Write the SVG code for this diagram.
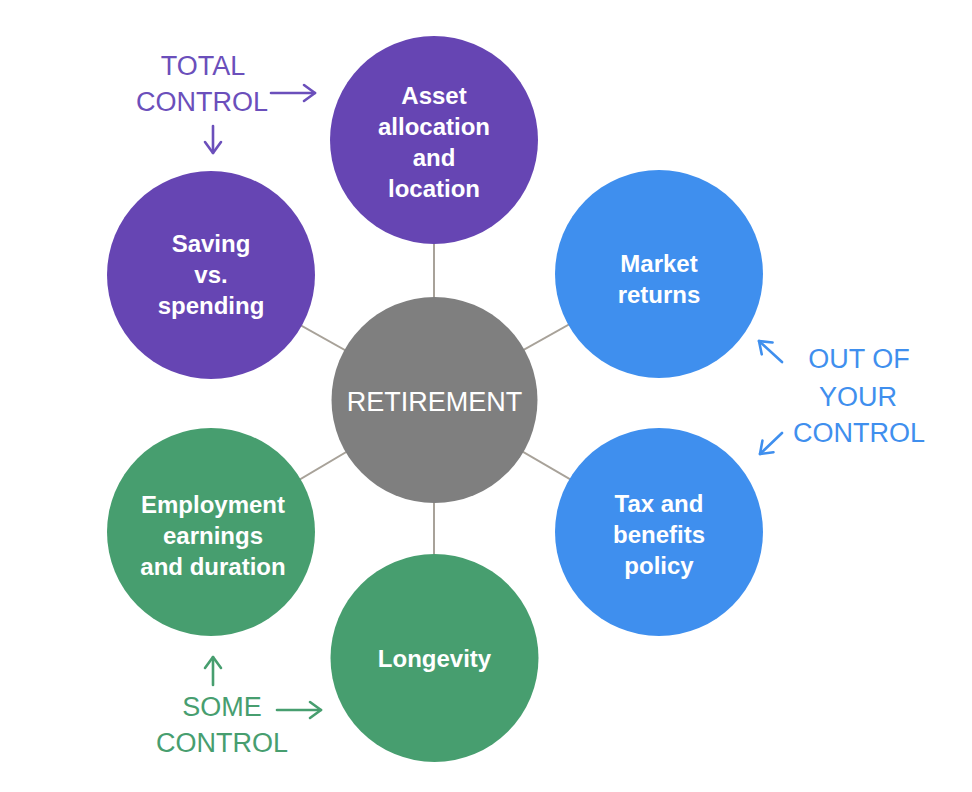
<svg xmlns="http://www.w3.org/2000/svg" width="972" height="792" viewBox="0 0 972 792">
  <style>
    .node text { font-family: "Liberation Sans", Arial, sans-serif; font-weight: bold; font-size: 24px; fill: #ffffff; text-anchor: middle; }
    .center text { font-family: "Liberation Sans", Arial, sans-serif; font-weight: normal; font-size: 27px; fill: #ffffff; text-anchor: middle; }
    .lbl { font-family: "Liberation Sans", Arial, sans-serif; font-size: 27px; text-anchor: middle; }
    .conn line { stroke: #a8a299; stroke-width: 2; }
    .arr { fill: none; stroke-width: 2.6; stroke-linecap: round; }
    .purple { fill: #6645b3; }
    .blue { fill: #3f8fee; }
    .green { fill: #479e6f; }
    .gray { fill: #7f7f7f; }
  </style>
  <defs>
    <marker id="mP" viewBox="-14 -11 16 22" markerWidth="16" markerHeight="22" refX="0" refY="0" orient="auto" markerUnits="userSpaceOnUse">
      <path d="M-11,-8 L0,0 L-11,8" fill="none" stroke="#6b4fbb" stroke-width="2.6" stroke-linecap="round" stroke-linejoin="round"/>
    </marker>
    <marker id="mB" viewBox="-14 -11 16 22" markerWidth="16" markerHeight="22" refX="0" refY="0" orient="auto" markerUnits="userSpaceOnUse">
      <path d="M-11,-8 L0,0 L-11,8" fill="none" stroke="#3f8fee" stroke-width="2.6" stroke-linecap="round" stroke-linejoin="round"/>
    </marker>
    <marker id="mG" viewBox="-14 -11 16 22" markerWidth="16" markerHeight="22" refX="0" refY="0" orient="auto" markerUnits="userSpaceOnUse">
      <path d="M-11,-8 L0,0 L-11,8" fill="none" stroke="#479e6f" stroke-width="2.6" stroke-linecap="round" stroke-linejoin="round"/>
    </marker>
  </defs>
  <rect width="972" height="792" fill="#ffffff"/>

  <g id="connectors" class="conn">
    <line x1="434" y1="400" x2="434" y2="140"/>
    <line x1="434" y1="400" x2="211" y2="275"/>
    <line x1="434" y1="400" x2="659" y2="274"/>
    <line x1="434" y1="400" x2="659" y2="531"/>
    <line x1="434" y1="400" x2="211" y2="532"/>
    <line x1="434" y1="400" x2="434" y2="658"/>
  </g>

  <g id="retirement" class="center">
    <circle cx="434.5" cy="400" r="103" class="gray"/>
    <text x="434.5" y="411">RETIREMENT</text>
  </g>

  <g id="asset-allocation" class="node">
    <circle cx="434" cy="140" r="104" class="purple"/>
    <text x="434" y="104">Asset</text>
    <text x="434" y="135">allocation</text>
    <text x="434" y="166">and</text>
    <text x="434" y="197">location</text>
  </g>

  <g id="saving-spending" class="node">
    <circle cx="211" cy="275" r="104" class="purple"/>
    <text x="211" y="252">Saving</text>
    <text x="211" y="283">vs.</text>
    <text x="211" y="314">spending</text>
  </g>

  <g id="market-returns" class="node">
    <circle cx="659" cy="274" r="104" class="blue"/>
    <text x="659" y="272">Market</text>
    <text x="659" y="303">returns</text>
  </g>

  <g id="tax-benefits" class="node">
    <circle cx="659" cy="532" r="104" class="blue"/>
    <text x="659" y="512">Tax and</text>
    <text x="659" y="543">benefits</text>
    <text x="659" y="574">policy</text>
  </g>

  <g id="employment" class="node">
    <circle cx="211" cy="532" r="104" class="green"/>
    <text x="213" y="513">Employment</text>
    <text x="213" y="544">earnings</text>
    <text x="213" y="575">and duration</text>
  </g>

  <g id="longevity" class="node">
    <circle cx="434.5" cy="658" r="104" class="green"/>
    <text x="434.5" y="667">Longevity</text>
  </g>

  <g id="total-control">
    <text class="lbl" x="203" y="75" fill="#6b4fbb">TOTAL</text>
    <text class="lbl" x="202" y="111" fill="#6b4fbb">CONTROL</text>
    <path class="arr" d="M271,93 L315,93" stroke="#6b4fbb" marker-end="url(#mP)"/>
    <path class="arr" d="M213,126 L213,153" stroke="#6b4fbb" marker-end="url(#mP)"/>
  </g>

  <g id="out-of-control">
    <text class="lbl" x="859" y="368" fill="#3f8fee">OUT OF</text>
    <text class="lbl" x="858" y="406" fill="#3f8fee">YOUR</text>
    <text class="lbl" x="859" y="442" fill="#3f8fee">CONTROL</text>
    <path class="arr" d="M782,362 L759,341" stroke="#3f8fee" marker-end="url(#mB)"/>
    <path class="arr" d="M782,433 L760,454" stroke="#3f8fee" marker-end="url(#mB)"/>
  </g>

  <g id="some-control">
    <text class="lbl" x="222" y="716" fill="#479e6f">SOME</text>
    <text class="lbl" x="222" y="752" fill="#479e6f">CONTROL</text>
    <path class="arr" d="M213,685 L213,657" stroke="#479e6f" marker-end="url(#mG)"/>
    <path class="arr" d="M277,710 L321,710" stroke="#479e6f" marker-end="url(#mG)"/>
  </g>
</svg>
